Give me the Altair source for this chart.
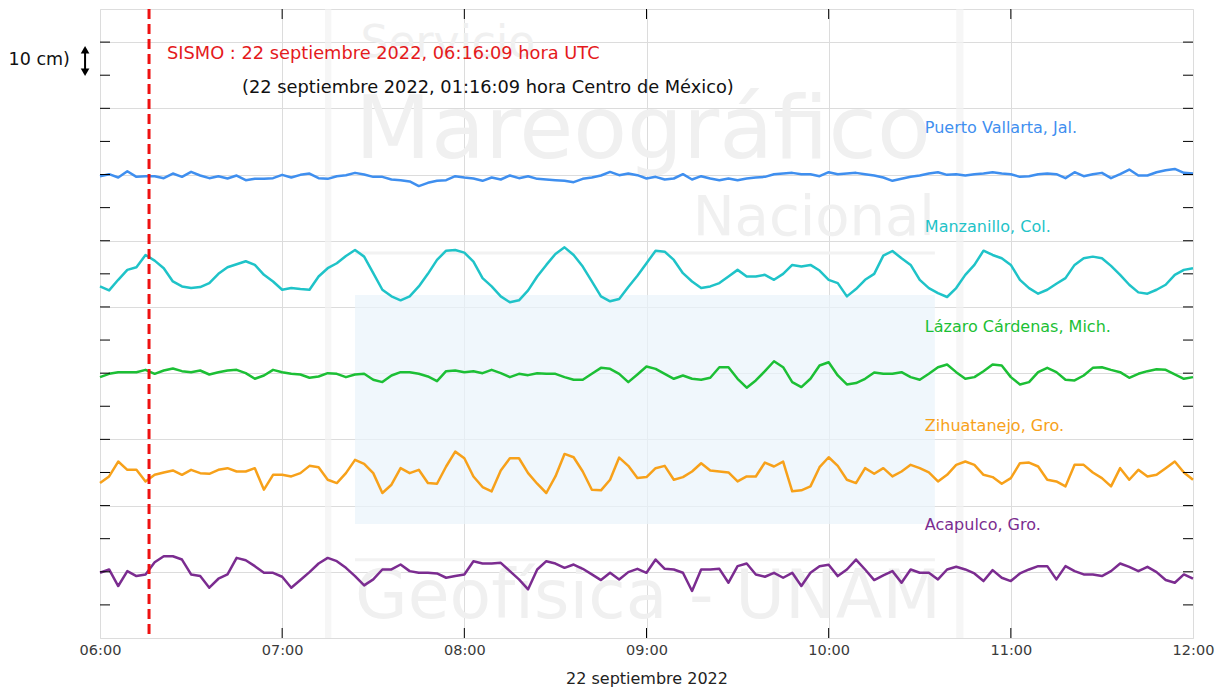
import altair as alt
import pandas as pd

# ---------------- data ----------------
minutes = list(range(0, 361, 3))  # minutes after 06:00 UTC, 22 Sep 2022

stations = ["Puerto Vallarta, Jal.", "Manzanillo, Col.", "Lázaro Cárdenas, Mich.",
            "Zihuatanejo, Gro.", "Acapulco, Gro."]
baselines_cm = [140, 110, 80, 50, 20]
label_offset_cm = 14
line_colors = ["#3f8fef", "#1fc3c8", "#1cbf35", "#f7a11a", "#7b2c90"]

puerto_vallarta = [
    -0.5, 0.1, -0.9, 1.0, -0.7, -0.5, -0.5, -1.1, 0.3, -0.7, 0.8, -0.3, -1.1, -0.5, -1.2, -0.3,
    -1.7, -1.3, -1.3, -1.1, -0.1, -0.9, -0.1, 0.3, -1.1, -1.3, -0.5, -0.2, 0.5, 0.0, -0.7, -0.7,
    -1.5, -1.7, -2.1, -3.5, -2.5, -1.9, -1.7, -0.5, -0.9,
    -1.2, -1.9, -0.9, -1.5, -0.3, -1.1, -0.5, -1.3, -1.5, -1.7, -1.9, -2.3, -1.3, -0.9, -0.3, 0.8,
    -0.2, 0.3, -0.2, -1.2, -0.7, -1.5, -1.2, 0.1, -1.5, -0.5, -1.2, -1.7, -1.2, -1.7, -1.2, -0.9,
    -0.7, 0.1, 0.3, 0.5, 0.1, 0.1, -0.5, 0.7,
    0.1, 0.3, 0.5, 0.1, -0.3, -0.9, -1.9, -1.3, -0.7, -0.3, 0.3, 0.7, -0.1, 0.1, -0.3, 0.1,
    0.3, 0.7, 0.3, 0.1, -0.7, -0.5, 0.1, 0.3, 0.1, -1.1, 0.7, -0.5, 0.1, 0.5, -1.1, 0.1,
    1.5, -0.3, -0.3, 0.7, 1.3, 1.7, 0.5, 0.3,
]
manzanillo = [
    -3.8, -5.0, -1.8, 1.2, 2.0, 5.7, 4.0, 1.7, -2.3, -3.8, -4.3, -4.0, -2.8, 0.0, 2.0, 2.9,
    3.8, 2.7, -0.3, -2.3, -4.8, -4.3, -4.6, -4.8, -0.8, 1.7, 3.2, 5.4, 7.2, 5.2, 0.2, -4.8,
    -6.8, -8.0, -6.8, -3.8, 0.0, 4.2, 7.0, 7.2, 6.4,
    3.7, -1.3, -3.8, -6.8, -8.6, -8.0, -5.0, -0.8, 2.7, 6.0, 8.0, 5.7, 2.2, -2.3, -6.8, -8.3,
    -7.6, -4.0, -0.6, 3.2, 7.0, 6.7, 4.2, 0.2, -2.3, -4.3, -3.8, -2.8, -0.8, 1.2, -0.8, -0.8,
    -0.3, -1.8, 0.0, 2.7, 2.2, 2.7, 1.0, -1.8,
    -2.8, -6.8, -4.6, -1.8, 0.0, 5.5, 6.9, 4.7, 2.7, -1.8, -4.3, -5.8, -7.0, -4.3, -0.3, 2.7,
    7.0, 5.7, 4.7, 2.7, -1.8, -4.3, -6.0, -4.8, -3.0, -1.3, 2.7, 4.7, 5.2, 4.7, 2.4, -0.3,
    -3.3, -5.6, -6.0, -4.8, -3.3, -0.3, 1.2, 1.7,
]
lazaro_cardenas = [
    -1.2, -0.2, 0.3, 0.3, 0.3, 1.0, -0.2, 0.8, 1.4, 0.6, 0.3, 0.8, -0.4, 0.3, 0.8, 1.0,
    0.0, -1.7, -0.7, 1.0, 0.3, -0.2, -0.4, -1.4, -1.0, 0.0, -0.2, -1.2, -0.4, -0.2, -2.0, -2.7,
    -0.7, 0.3, 0.3, -0.2, -1.0, -2.4, 0.6, 0.8, 0.3,
    0.6, 0.0, 1.0, 0.0, -1.2, -0.2, -0.6, 0.0, -0.2, -0.2, -1.2, -2.0, -2.0, -0.2, 1.6, 1.3,
    -0.2, -2.7, -0.4, 2.0, 1.3, -0.2, -1.7, -0.7, -1.7, -2.0, -1.4, 1.8, 1.8, -1.7, -4.4, -2.2,
    0.6, 3.6, 1.8, -2.7, -4.2, -1.7, 2.3, 3.3,
    -0.7, -3.4, -3.0, -1.7, 0.2, -0.2, -0.2, 0.3, -1.2, -2.0, -0.2, 1.8, 2.6, 0.3, -1.7, -1.2,
    0.6, 2.6, 2.3, -1.2, -3.4, -2.7, 0.3, 1.6, 0.3, -2.0, -2.2, -0.7, 1.6, 1.8, 1.0, 0.3,
    -1.4, -0.2, 0.6, 1.2, 1.0, -0.4, -1.7, -1.2,
]
zihuatanejo = [
    -3.2, -1.2, 3.3, 0.8, 0.8, -2.7, -0.7, 0.0, 0.6, -0.7, 0.8, -0.2, -0.4, 0.8, 1.3, 0.3,
    0.3, 1.3, -5.2, -0.7, -0.7, -1.2, -0.2, 2.0, 1.6, -2.2, -3.2, -0.2, 3.8, 2.6, -0.2, -6.2,
    -3.7, 1.3, -0.2, 0.8, -3.2, -3.4, 1.8, 6.3, 4.3,
    -1.2, -4.4, -5.7, 0.6, 4.3, 4.3, -0.2, -3.4, -6.2, -1.2, 5.6, 4.6, 0.3, -5.2, -5.4, -2.2,
    4.5, 2.0, -1.7, -1.4, 1.3, 2.0, -2.2, -1.4, 0.3, 2.8, 0.6, 0.3, 0.0, -2.7, -1.2, -1.2,
    3.0, 1.8, 3.3, -5.7, -5.4, -4.2, 1.6, 4.6,
    2.0, -2.2, -3.2, 1.3, -0.4, 1.3, -1.2, 0.3, 2.3, 1.3, 0.0, -2.7, -0.7, 2.3, 3.3, 2.3,
    -0.7, -1.4, -3.4, -1.7, 2.8, 3.0, 1.8, -2.2, -2.7, -4.2, 2.3, 2.3, 0.0, -1.7, -4.2, 1.3,
    -2.2, 0.8, -1.2, -0.7, 1.3, 3.3, 0.0, -2.2,
]
acapulco = [
    -0.3, 0.7, -4.3, 0.2, -1.3, -0.8, 2.9, 4.7, 4.7, 3.7, -0.8, -1.3, -4.8, -2.1, -0.8, 4.2,
    3.5, 1.7, -0.3, -0.3, -1.5, -4.8, -2.5, -0.1, 2.5, 4.2, 3.2, 1.2, -1.3, -4.1, -2.3, 0.7,
    0.7, 2.2, 0.2, -0.3, -0.3, -0.5, -1.8, -1.3, -0.8,
    3.2, 2.5, 2.5, 2.7, 0.2, -2.3, -5.3, 0.7, 3.2, 2.5, 1.2, 2.2, 0.9, -0.8, -2.5, -0.3,
    -2.3, -0.1, 0.9, -0.3, 3.7, 0.9, 0.7, -0.3, -5.8, 0.7, 0.7, 0.9, -3.3, 1.7, 2.5, -0.8,
    -1.5, -0.3, -1.8, -0.3, -4.3, -0.3, 1.7, 2.1,
    -1.3, 0.7, 3.7, 0.7, -2.5, -1.1, 0.2, -3.3, 0.7, -0.3, -0.3, -2.3, 0.7, 1.5, 0.7, -0.5,
    -2.8, 0.5, -1.8, -2.8, -0.5, 0.7, 1.7, 1.7, -2.3, 1.7, 0.2, -0.8, -0.8, -1.3, 0.2, 2.5,
    1.5, 0.2, 1.5, -0.1, -2.5, -3.3, -0.8, -2.1,
]
series = [puerto_vallarta, manzanillo, lazaro_cardenas, zihuatanejo, acapulco]

quake_hour = [6 + 16 / 60 + 9 / 3600]   # 06:16:09 UTC
hour_ticks = [6, 7, 8, 9, 10, 11, 12]
inner_hour_ticks = [7, 8, 9, 10, 11]
cm_grid = list(range(0, 191, 10))
cm_inner = list(range(10, 190, 10))

W, H = 1093, 629
FONT = "DejaVu Sans"
WM = "#f0f0f0"

# ---------------- tables ----------------
rows = []
for name, base, vals in zip(stations, baselines_cm, series):
    for m, v in zip(minutes, vals):
        rows.append({"station": name, "hour": 6 + m / 60, "y": base + v})
lines_df = pd.DataFrame(rows)

labels_df = pd.DataFrame({
    "station": stations,
    "hour": [10.528] * len(stations),
    "y": [b + label_offset_cm for b in baselines_cm],
})

xs = alt.X("hour:Q", scale=alt.Scale(domain=[6, 12], nice=False, zero=False),
           axis=alt.Axis(values=hour_ticks,
                         labelExpr="(datum.value < 10 ? '0' : '') + datum.value + ':00'",
                         title="22 septiembre 2022", grid=True, gridColor="#dcdcdc",
                         ticks=False, domain=False, labelFlush=False,
                         labelFontSize=14.5, labelColor="#3a3a3a", labelPadding=5,
                         titleFontSize=16, titleFontWeight="normal", titleColor="#222222",
                         titlePadding=14))
ys = alt.Y("y:Q", scale=alt.Scale(domain=[0, 190], nice=False, zero=False),
           axis=alt.Axis(values=cm_grid, labels=False, ticks=False, domain=False,
                         grid=True, gridColor="#dcdcdc", title=None))

# ---------------- watermark (logo behind data) ----------------
wm_rect_df = pd.DataFrame({"x": [7.40], "x2": [10.583], "y": [103.6], "y2": [34.4]})
wm_rect = alt.Chart(wm_rect_df).mark_rect(color="#e9f4fb", opacity=0.7).encode(
    x=alt.X("x:Q"), x2="x2:Q", y=alt.Y("y:Q"), y2="y2:Q")

wm_bars_df = pd.DataFrame({"x": [7.235, 10.70], "x2": [7.27, 10.74], "y": [190, 190], "y2": [0, 0]})
wm_bars = alt.Chart(wm_bars_df).mark_rect(color="#f2f2f2", opacity=0.7).encode(
    x="x:Q", x2="x2:Q", y="y:Q", y2="y2:Q")

wm_hl_df = pd.DataFrame({"x": [7.40, 7.40], "x2": [10.583, 10.583], "y": [116.3, 23.6]})
wm_hl = alt.Chart(wm_hl_df).mark_rule(color="#f2f2f2", strokeWidth=3).encode(
    x="x:Q", x2="x2:Q", y="y:Q")

wm_text_df = pd.DataFrame({
    "t": ["Servicio", "Mareográfico", "Geofísica - UNAM"],
    "x": [7.43, 7.40, 7.40],
    "y": [175.5, 145.0, 6.0],
    "s": [44, 88, 68],
})
wm_text = alt.Chart(wm_text_df).mark_text(align="left", baseline="alphabetic", color=WM,
                                          font=FONT).encode(
    x="x:Q", y="y:Q", text="t:N", size=alt.Size("s:Q", scale=None, legend=None))
wm_nac = alt.Chart(pd.DataFrame({"t": ["Nacional"], "x": [10.583], "y": [121.8]})).mark_text(
    align="right", baseline="alphabetic", color=WM, font=FONT, fontSize=56).encode(
    x="x:Q", y="y:Q", text="t:N")

# ---------------- data lines ----------------
lines = alt.Chart(lines_df).mark_line(strokeWidth=2.5, strokeJoin="round").encode(
    x=xs, y=ys,
    color=alt.Color("station:N", scale=alt.Scale(domain=stations, range=line_colors), legend=None),
    detail="station:N",
)

quake = alt.Chart(pd.DataFrame({"hour": quake_hour})).mark_rule(
    color="#ee1111", strokeWidth=3, strokeDash=[10, 5]).encode(x="hour:Q")

station_labels = alt.Chart(labels_df).mark_text(align="left", baseline="middle", fontSize=16,
                                                font=FONT).encode(
    x="hour:Q", y="y:Q", text="station:N",
    color=alt.Color("station:N", scale=alt.Scale(domain=stations, range=line_colors), legend=None))

sismo = alt.Chart(pd.DataFrame({"hour": [6.368], "y": [176.4],
                                "t": ["SISMO : 22 septiembre 2022, 06:16:09 hora UTC"]})).mark_text(
    align="left", baseline="middle", fontSize=17.8, color="#e41a1c", font=FONT).encode(
    x="hour:Q", y="y:Q", text="t:N")
local = alt.Chart(pd.DataFrame({"hour": [6.78], "y": [166.1],
                                "t": ["(22 septiembre 2022, 01:16:09 hora Centro de México)"]})).mark_text(
    align="left", baseline="middle", fontSize=17.8, color="#111111", font=FONT).encode(
    x="hour:Q", y="y:Q", text="t:N")

# scale indicator: "10 cm)" with a double arrow
scale_txt = alt.Chart(pd.DataFrame({"hour": [5.835], "y": [174.6], "t": ["10 cm)"]})).mark_text(
    align="right", baseline="middle", fontSize=17.5, color="#111111", font=FONT).encode(
    x="hour:Q", y="y:Q", text="t:N")
arrow_shaft = alt.Chart(pd.DataFrame({"hour": [5.918], "y": [178.0], "y2": [171.0]})).mark_rule(
    color="#000000", strokeWidth=2).encode(x="hour:Q", y="y:Q", y2="y2:Q")
arrow_heads = alt.Chart(pd.DataFrame({"hour": [5.918, 5.918], "y": [177.7, 170.9],
                                      "shape": ["triangle-up", "triangle-down"]})).mark_point(
    filled=True, color="#000000", size=75, opacity=1).encode(
    x="hour:Q", y="y:Q", shape=alt.Shape("shape:N", scale=None, legend=None))

# inward ticks (matlab-style box)
tick_l = alt.Chart(pd.DataFrame({"y": cm_inner})).mark_rule(color="#000000", strokeWidth=1).encode(
    y="y:Q", x=alt.value(0), x2=alt.value(10))
tick_r = alt.Chart(pd.DataFrame({"y": cm_inner})).mark_rule(color="#000000", strokeWidth=1).encode(
    y="y:Q", x=alt.value(W - 10), x2=alt.value(W))
tick_t = alt.Chart(pd.DataFrame({"hour": inner_hour_ticks})).mark_rule(color="#000000", strokeWidth=1).encode(
    x="hour:Q", y=alt.value(0), y2=alt.value(10))
tick_b = alt.Chart(pd.DataFrame({"hour": inner_hour_ticks})).mark_rule(color="#000000", strokeWidth=1).encode(
    x="hour:Q", y=alt.value(H - 10), y2=alt.value(H))

chart = alt.layer(
    wm_rect, wm_bars, wm_hl, wm_text, wm_nac,
    lines, quake, station_labels, sismo, local,
    scale_txt, arrow_shaft, arrow_heads,
    tick_l, tick_r, tick_t, tick_b,
).properties(
    width=W, height=H,
    autosize=alt.AutoSizeParams(type="none"),
    padding={"left": 92, "top": 1, "right": 23, "bottom": 55},
).configure_view(
    stroke="#000000", strokeWidth=1
).configure(
    font=FONT, background="#ffffff"
)

chart.save("out.html", embed_options={"renderer": "svg", "actions": False})
